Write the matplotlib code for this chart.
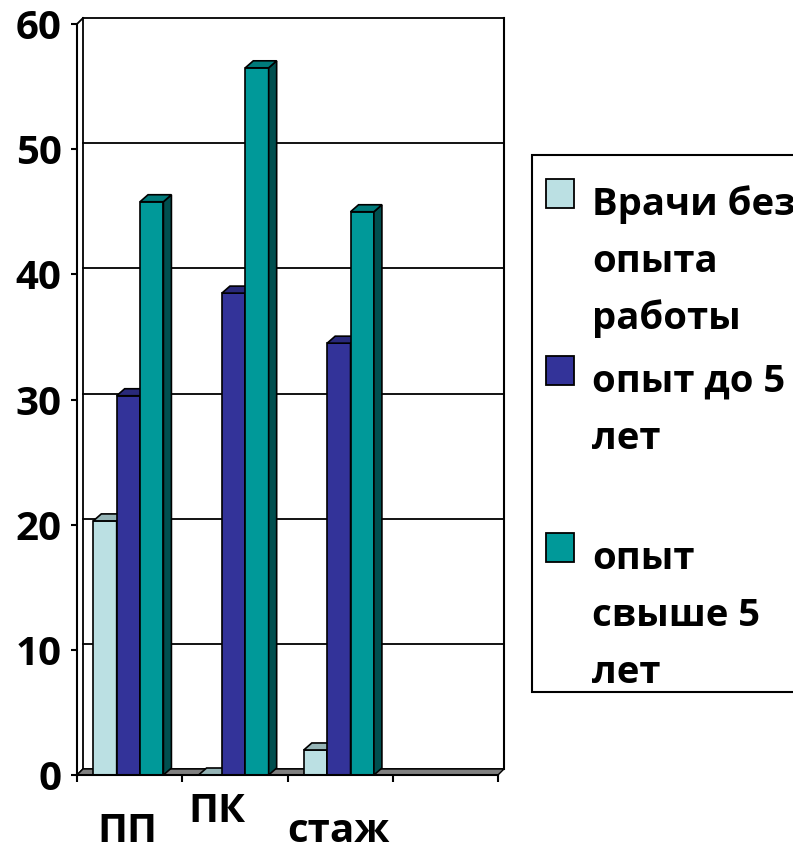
import matplotlib.pyplot as plt
from matplotlib.patches import Polygon, Rectangle

plt.rcParams['font.family'] = ['Open Sans', 'DejaVu Sans']
plt.rcParams['font.weight'] = 'bold'

# данные
categories = ['ПП', 'ПК', 'стаж', '']
series_names = ['Врачи без\nопыта\nработы', 'опыт до 5\nлет', 'опыт\nсвыше 5\nлет']
no_exp = [20.3, 0, 2.0, 0]
exp_lt5 = [30.3, 38.5, 34.5, 0]
exp_gt5 = [45.8, 56.5, 45.0, 0]
series = [no_exp, exp_lt5, exp_gt5]
yticks = [0, 10, 20, 30, 40, 50, 60]

front = ['#BBE0E3', '#333399', '#009999']
top = ['#95B4B6', '#29297A', '#007A7A']
side = ['#7C9698', '#1E1E5A', '#004F4F']

W, H = 793, 844
fig = plt.figure(figsize=(W / 100, H / 100), dpi=100)
ax = fig.add_axes([77 / W, 69 / H, 421 / W, 751 / H])
ax.set_xlim(0, 4)
ax.set_ylim(0, 60)

# смещения глубины в единицах данных
pxx = 4 / 421
pxy = 60 / 751
wdx, wdy = 6 * pxx, 6 * pxy   # стены
bdx, bdy = 8 * pxx, 7 * pxy   # столбцы

# задняя стенка и сетка
for t in yticks:
    ax.plot([wdx, 4 + wdx], [t + wdy, t + wdy], color='black', lw=1.3,
            clip_on=False, zorder=1)
ax.plot([wdx, wdx], [wdy, 60 + wdy], color='black', lw=1.3, clip_on=False, zorder=1)
ax.plot([4 + wdx, 4 + wdx], [wdy, 60 + wdy], color='black', lw=1.5, clip_on=False, zorder=1)
ax.plot([0, wdx], [60, 60 + wdy], color='black', lw=1.3, clip_on=False, zorder=1)
ax.plot([0, wdx], [0, wdy], color='black', lw=1.3, clip_on=False, zorder=1)

# пол
ax.add_patch(Polygon([(0, 0), (4, 0), (4 + wdx, wdy), (wdx, wdy)], closed=True,
                     facecolor='#808080', edgecolor='black', lw=1.0,
                     clip_on=False, zorder=2))

bw = 0.222
start = 0.155
for i, vals in enumerate(series):
    xs = [k + start + i * bw for k in range(len(categories))]
    for k, (x0, v) in enumerate(zip(xs, vals)):
        if categories[k] == '':
            continue
        z = 3 + i
        ax.bar(x0, v, width=bw, align='edge', color=front[i], edgecolor='black',
               lw=1.2, zorder=z, clip_on=False)
        ax.add_patch(Polygon([(x0 + bw, 0), (x0 + bw + bdx, bdy),
                              (x0 + bw + bdx, v + bdy), (x0 + bw, v)], closed=True,
                             facecolor=side[i], edgecolor='black', lw=1.2,
                             zorder=z, clip_on=False))
        ax.add_patch(Polygon([(x0, v), (x0 + bw, v), (x0 + bw + bdx, v + bdy),
                              (x0 + bdx, v + bdy)], closed=True,
                             facecolor=top[i], edgecolor='black', lw=1.2,
                             zorder=z, clip_on=False))

# оси
for s in ['top', 'right']:
    ax.spines[s].set_visible(False)
ax.spines['left'].set_linewidth(1.5)
ax.spines['bottom'].set_linewidth(1.5)
ax.spines['left'].set_zorder(10)
ax.spines['bottom'].set_zorder(10)
ax.set_yticks(yticks)
ax.set_yticklabels([str(t) for t in yticks], fontsize=29, fontweight='bold')
ax.tick_params(axis='y', length=4, width=1.5, pad=7)
ax.set_xticks(range(len(categories) + 1))
ax.set_xticklabels([])
ax.tick_params(axis='x', length=5, width=1.5, direction='out')

# подписи категорий (со сдвигами как на оригинале)
offsets = [(-2, -67), (-18, -47), (-2, -67)]
for k, name in enumerate(categories):
    if not name:
        continue
    ox, oy = offsets[k]
    ax.annotate(name, xy=(k + 0.5, 0), xytext=(ox * 0.72, oy * 0.72),
                textcoords='offset points', ha='center', va='baseline',
                fontsize=29, fontweight='bold', annotation_clip=False)

# легенда
lax = fig.add_axes([0, 0, 1, 1], zorder=20)
lax.set_xlim(0, W)
lax.set_ylim(H, 0)
lax.axis('off')
lax.add_patch(Rectangle((532, 155), 400, 537, facecolor='white',
                        edgecolor='black', lw=1.5))
for i, name in enumerate(series_names):
    base = 215 + 177 * i
    lax.add_patch(Rectangle((546, base - 36), 28, 29, facecolor=front[i],
                            edgecolor='black', lw=1.3))
    for j, line in enumerate(name.split('\n')):
        lax.text(592, base + 57 * j, line, fontsize=27.5, fontweight='bold',
                 va='baseline', ha='left')

fig.savefig('out.png', dpi=100)
